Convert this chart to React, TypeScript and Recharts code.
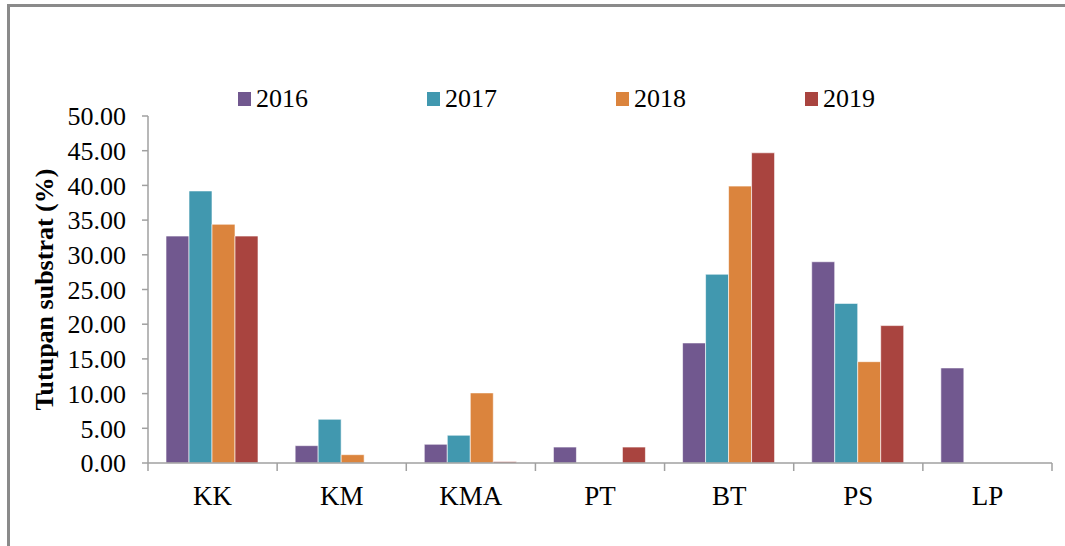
import { BarChart, Bar, XAxis, YAxis, Legend } from "recharts";

const categories = ["KK", "KM", "KMA", "PT", "BT", "PS", "LP"];
const y2016 = [32.7, 2.5, 2.7, 2.3, 17.3, 29.0, 13.7];
const y2017 = [39.2, 6.3, 4.0, 0, 27.2, 23.0, 0];
const y2018 = [34.4, 1.2, 10.1, 0, 39.9, 14.6, 0];
const y2019 = [32.7, 0, 0.2, 2.3, 44.7, 19.8, 0];
const yTicks = [0, 5, 10, 15, 20, 25, 30, 35, 40, 45, 50];

const series = [
  { key: "2016", color: "#71588F" },
  { key: "2017", color: "#4198AF" },
  { key: "2018", color: "#DB843D" },
  { key: "2019", color: "#A9443F" },
];

const data = categories.map((name, i) => ({
  name,
  "2016": y2016[i],
  "2017": y2017[i],
  "2018": y2018[i],
  "2019": y2019[i],
}));

const W = 1065;
const H = 546;
const margin = { top: 116, right: 13, bottom: 53, left: 0 };
const yAxisWidth = 148;
const band = (W - margin.right - yAxisWidth) / categories.length;
const font = "'Liberation Serif', 'Times New Roman', serif";
const axisColor = "#a0a0a0";

// tick marks sit on the category boundaries, labels in the middle
function XTick(props: any) {
  const { x, y, payload, index } = props;
  const left = x - band / 2;
  const top = y - 22;
  return (
    <g>
      <line x1={left} y1={top} x2={left} y2={top + 8} stroke={axisColor} strokeWidth={1.5} />
      {index === categories.length - 1 && (
        <line x1={left + band} y1={top} x2={left + band} y2={top + 8} stroke={axisColor} strokeWidth={1.5} />
      )}
      <text x={x} y={y} dy="0.75em" textAnchor="middle" fontSize={27} fontFamily={font} fill="#000">
        {payload.value}
      </text>
    </g>
  );
}

function LegendBox() {
  return (
    <div style={{ display: "flex", fontFamily: font, fontSize: 26, color: "#000" }}>
      {series.map((s) => (
        <div key={s.key} style={{ width: 189, display: "flex", alignItems: "center" }}>
          <span style={{ width: 13, height: 14, background: s.color, marginRight: 5, display: "inline-block" }} />
          <span>{s.key}</span>
        </div>
      ))}
    </div>
  );
}

export default function App() {
  return (
    <div style={{ position: "absolute", left: 0, top: 0, width: W, height: H, overflow: "hidden", background: "#fff" }}>
      <div
        style={{
          position: "absolute",
          left: 7,
          top: 4,
          width: W + 20,
          height: H + 20,
          border: "3px solid #8a8a8a",
          boxSizing: "border-box",
        }}
      />
      <div style={{ position: "absolute", left: 0, top: 0 }}>
        <BarChart width={W} height={H} data={data} margin={margin} barCategoryGap={18} barGap={0}>
          <XAxis
            dataKey="name"
            height={30}
            tickSize={8}
            tickMargin={14}
            tickLine={false}
            axisLine={{ stroke: axisColor, strokeWidth: 1.5 }}
            tick={<XTick />}
            interval={0}
          />
          <YAxis
            width={yAxisWidth}
            domain={[0, 50]}
            ticks={yTicks}
            interval={0}
            tickFormatter={(v: number) => v.toFixed(2)}
            tickSize={6}
            tickMargin={16}
            axisLine={{ stroke: axisColor, strokeWidth: 1.5 }}
            tickLine={{ stroke: axisColor, strokeWidth: 1.5 }}
            tick={{ fontSize: 26, fontFamily: font, fill: "#000" }}
            label={{
              value: "Tutupan substrat (%)",
              angle: -90,
              position: "insideLeft",
              offset: 44,
              style: { fontSize: 26, fontWeight: "bold", fontFamily: font, fill: "#000", textAnchor: "middle" },
            }}
          />
          <Legend
            layout="horizontal"
            verticalAlign="middle"
            align="center"
            content={<LegendBox />}
            wrapperStyle={{ position: "absolute", top: 84, left: 238, width: 760 }}
          />
          {series.map((s) => (
            <Bar
              key={s.key}
              dataKey={s.key}
              fill={s.color}
              stroke="rgba(255,255,255,0.6)"
              strokeWidth={1}
              isAnimationActive={false}
            />
          ))}
        </BarChart>
      </div>
    </div>
  );
}
